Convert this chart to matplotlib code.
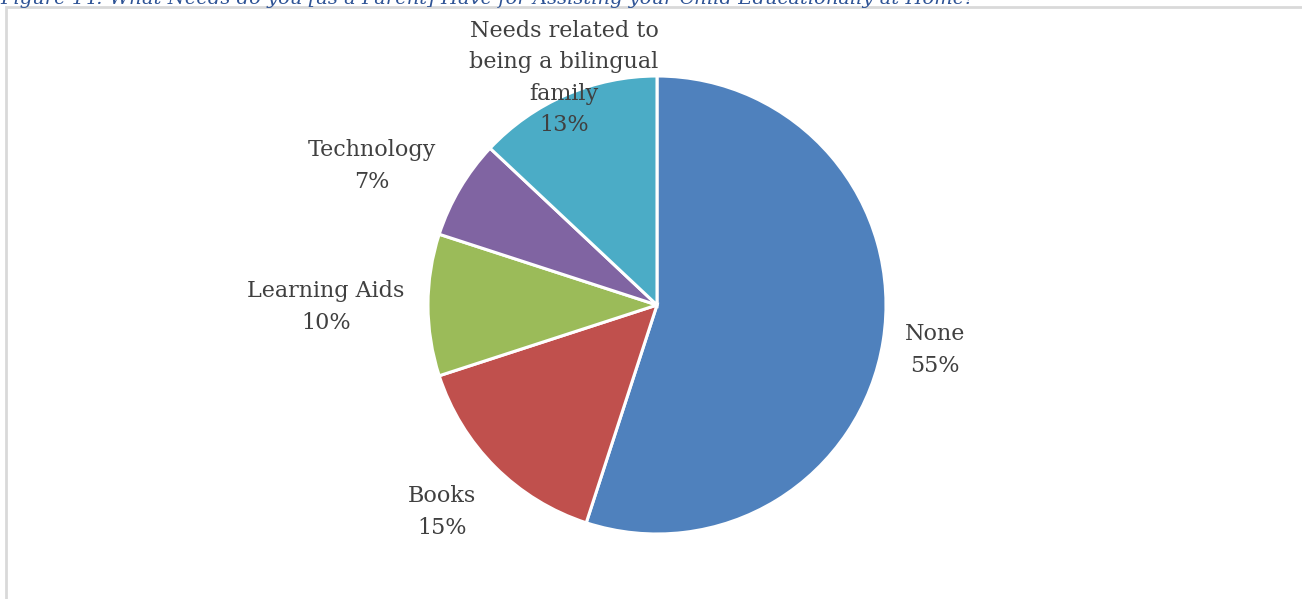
import matplotlib
matplotlib.use("Agg")
import matplotlib.pyplot as plt
from matplotlib.patches import Rectangle

categories = ["None", "Books", "Learning Aids", "Technology",
              "Needs related to\nbeing a bilingual\nfamily"]
values = [55, 15, 10, 7, 13]
colors = ["#4F81BD", "#C0504D", "#9BBB59", "#8064A2", "#4BACC6"]
caption = "Figure 14: What Needs do you [as a Parent] Have for Assisting your Child Educationally at Home?"

W, H = 1302, 599
fig = plt.figure(figsize=(W / 100, H / 100), dpi=100)
ax = fig.add_axes([0, 0, 1, 1])

cx, cy, R = 657, H - 305, 229  # pixel centre / radius

wedges, _ = ax.pie(values, colors=colors, startangle=90, counterclock=False,
                   wedgeprops=dict(edgecolor="white", linewidth=2.2))

ax.set_xlim(-cx / R, (W - cx) / R)
ax.set_ylim(-cy / R, (H - cy) / R)
ax.set_aspect("auto")
ax.axis("off")

# label offsets (in radius units) relative to centre
label_pos = [(1.214, -0.197), (-0.939, -0.904), (-1.445, -0.009),
             (-1.245, 0.607), (-0.406, 0.991)]
for cat, v, (lx, ly) in zip(categories, values, label_pos):
    ax.text(lx, ly, f"{cat}\n{v}%", ha="center", va="center",
            fontsize=16, color="#404040", family="DejaVu Serif",
            linespacing=1.55)

# chart border
fig.patches.append(Rectangle((6 / W, -0.1), 1.2, (H - 7) / H + 0.1,
                             transform=fig.transFigure, fill=False,
                             edgecolor="#D9D9D9", linewidth=2))

fig.text(0 / W, (H - 4) / H, caption, ha="left", va="baseline",
         fontsize=14, style="italic", color="#2F5496", family="DejaVu Serif")

fig.savefig("out.png", dpi=100, facecolor="white")
